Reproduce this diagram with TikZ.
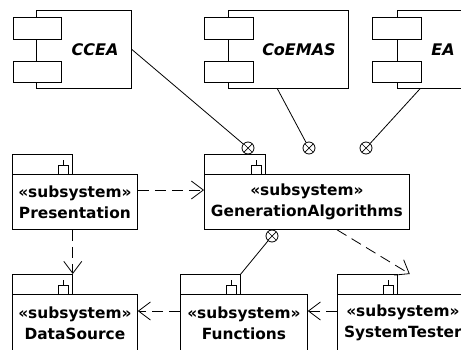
\documentclass[tikz,border=0pt]{standalone}
\usepackage{fontspec}
\setmainfont{DejaVu Sans}
\usetikzlibrary{arrows.meta}
\begin{document}
\begin{tikzpicture}[x=1pt,y=-1pt,
  line width=0.8pt,
  box/.style={draw, fill=white, inner sep=0pt, anchor=north west},
  pkgtext/.style={font=\fontsize{15.4}{21}\selectfont\bfseries, align=center},
  comptext/.style={font=\fontsize{16}{18}\selectfont\bfseries\itshape},
  dep/.style={draw, dash pattern=on 11pt off 6pt, -{Straight Barb[length=12pt,width=18pt,line width=0.8pt]}},
  lolli/.style={draw, circle, fill=white, minimum size=12pt, inner sep=0pt,
    path picture={\draw[line width=0.7pt] (path picture bounding box.north west)--(path picture bounding box.south east) (path picture bounding box.north east)--(path picture bounding box.south west);}},
]
\useasboundingbox (0,0) rectangle (461,349);
\clip (0,0) rectangle (461,349);

% components
\node[box, minimum width=95pt, minimum height=78pt] (ccea) at (36,10) {};
\node[box, minimum width=48pt, minimum height=22pt] (ccea-p1) at (13,17) {};
\node[box, minimum width=48pt, minimum height=21pt] (ccea-p2) at (13,61) {};
\node[comptext] (ccea-t) at (95,50) {CCEA};

\node[box, minimum width=120pt, minimum height=78pt] (coemas) at (228,10) {};
\node[box, minimum width=49pt, minimum height=22pt] (coemas-p1) at (204,17) {};
\node[box, minimum width=49pt, minimum height=21pt] (coemas-p2) at (204,61) {};
\node[comptext] (coemas-t) at (299,50) {CoEMAS};

\node[box, minimum width=95pt, minimum height=78pt] (ea) at (397,10) {};
\node[box, minimum width=49pt, minimum height=22pt] (ea-p1) at (372,17) {};
\node[box, minimum width=49pt, minimum height=21pt] (ea-p2) at (372,61) {};
\node[comptext] (ea-t) at (443,50) {EA};

% packages
\node[box, minimum width=60pt, minimum height=20pt] (pres-tab) at (12,154) {};
\node[box, minimum width=125pt, minimum height=55pt, pkgtext] (pres) at (12,174) {«subsystem»\\Presentation};
\node[box, minimum width=61pt, minimum height=20pt] (ga-tab) at (204,154) {};
\node[box, minimum width=205pt, minimum height=55pt, pkgtext] (ga) at (204,174) {«subsystem»\\GenerationAlgorithms};
\node[box, minimum width=60pt, minimum height=20pt] (ds-tab) at (12,274) {};
\node[box, minimum width=125pt, minimum height=57pt, pkgtext] (ds) at (12,294) {«subsystem»\\DataSource};
\node[box, minimum width=60pt, minimum height=20pt] (func-tab) at (180,274) {};
\node[box, minimum width=127pt, minimum height=57pt, pkgtext] (func) at (180,294) {«subsystem»\\Functions};
\node[box, minimum width=60pt, minimum height=20pt] (st-tab) at (337,274) {};
\node[box, minimum width=131pt, minimum height=57pt, pkgtext] (st) at (337,294) {«subsystem»\\SystemTester};

% tab icons
\foreach \t in {pres-tab, ga-tab, ds-tab, func-tab, st-tab}{
  \draw[line width=0.7pt] ([xshift=-14pt]\t.south east) -- ++(0,-9) -- ++(10,0) -- ++(0,9);
  \draw[line width=0.7pt] ([xshift=-9pt,yshift=9pt]\t.south east) -- ++(0,-6);
}

% lollipops
\node[lolli] (l1) at (248,148) {};
\node[lolli] (l2) at (309,148) {};
\node[lolli] (l3) at (366,148) {};
\node[lolli] (l4) at (272,236) {};

\draw (ccea.east) -- (l1);
\draw ([xshift=-11pt]coemas.south) -- (l2);
\draw ([xshift=23pt]ea.south west) -- (l3);
\draw (l4) -- (func-tab.north east);

% dependencies
\draw[dep] ([yshift=-16pt]pres.north east) -- ([yshift=-16pt]ga.north west);
\draw[dep] (pres.south -| pres-tab.east) -- (ds-tab.north east);
\draw[dep] ([xshift=133pt]ga.south west) -- ([xshift=12pt]st-tab.north east);
\draw[dep] ([yshift=-17pt]func.north west) -- ([yshift=-17pt]ds.north east);
\draw[dep] ([yshift=-17pt]st.north west) -- ([yshift=-17pt]func.north east);
\end{tikzpicture}
\end{document}
